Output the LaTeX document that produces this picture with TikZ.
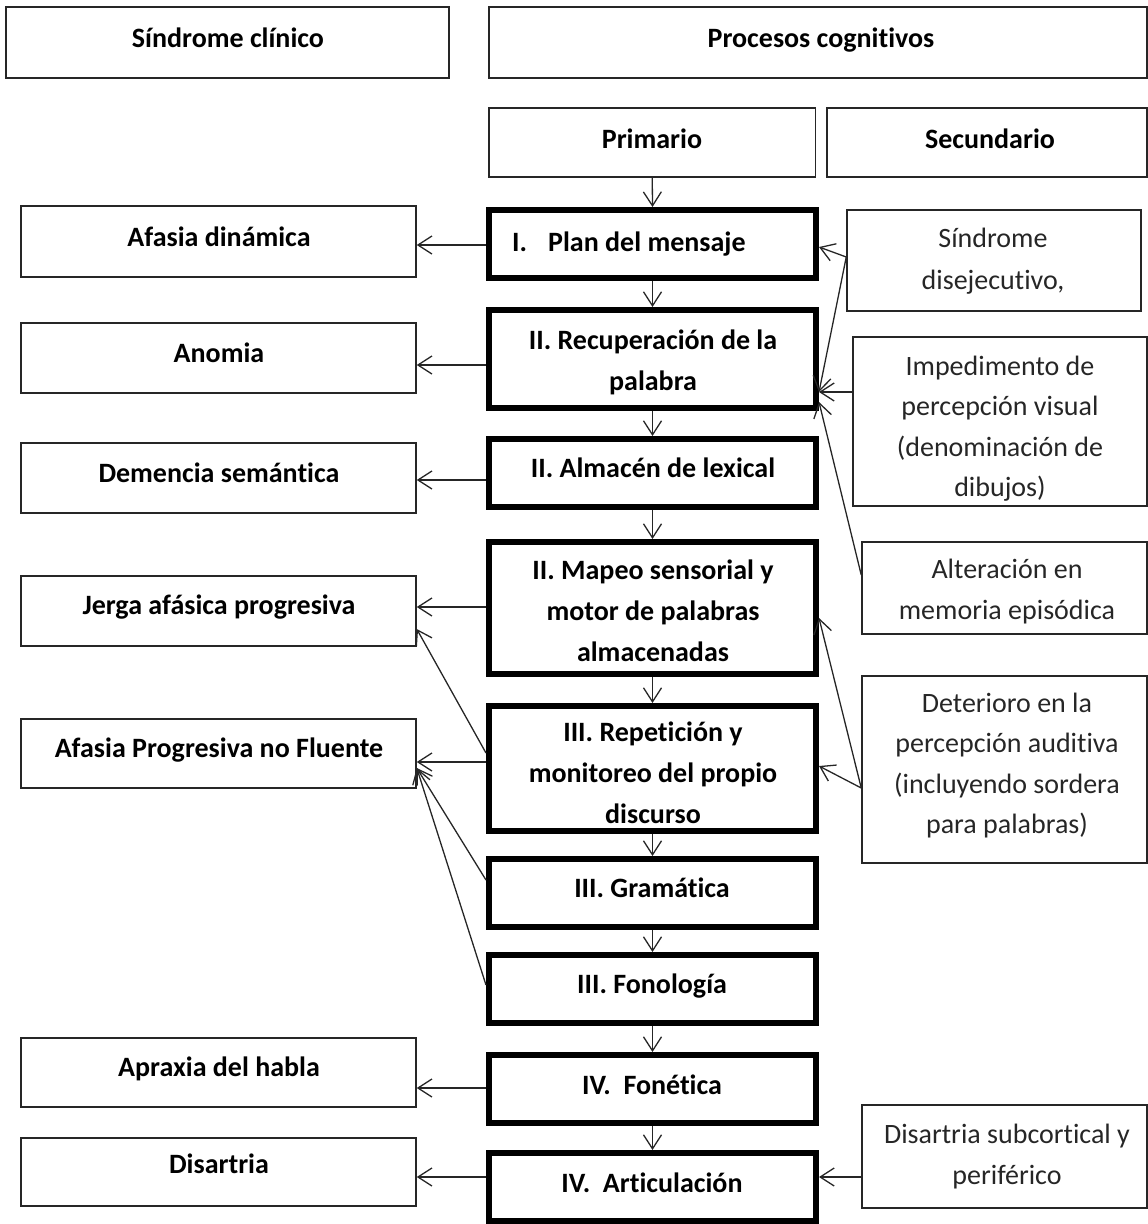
\documentclass[tikz,border=0pt]{standalone}
\usepackage{fontspec}
\setmainfont{Carlito}[Ligatures={NoCommon}]
\usetikzlibrary{arrows.meta}
% uniform line strut: keeps every text line centred on its cap height
\newcommand\lnst{\rule[-11pt]{0pt}{40pt}}

\begin{document}
\begin{tikzpicture}[x=1pt,y=-1pt,
  lbox/.style={draw=black!85, line width=1.5pt, rectangle, inner sep=0pt},
  pbox/.style={draw=black, line width=6pt, rectangle, inner sep=0pt, minimum width=327pt},
  lbl/.style={inner sep=0pt, align=center, font=\fontsize{28}{39.5}\selectfont\bfseries},
  sec/.style={inner sep=0pt, align=center, font=\fontsize{28}{40.5}\selectfont, text=black!85},
  conn/.style={draw=black!85, line width=1.3pt,
    -{Straight Barb[length=14pt,width=18pt,line width=1.3pt]}},
]
\useasboundingbox (0,0) rectangle (1148,1224);

% ---- header boxes
\node[lbox, minimum width=443pt, minimum height=71pt] (sc)   at (227.5,42.5) {};
\node[lbox, minimum width=658pt, minimum height=71pt] (pc)   at (818,42.5) {};
\node[lbox, minimum width=326.5pt, minimum height=69pt] (prim) at (652.25,142.5) {};
\node[lbox, minimum width=320pt, minimum height=69pt] (secu) at (987,142.5) {};
\node[lbl] (t-sc)   at (228,38)  {\lnst Síndrome clínico};
\node[lbl] (t-pc)   at (821,38)  {\lnst Procesos cognitivos};
\node[lbl] (t-prim) at (652,139) {\lnst Primario};
\node[lbl] (t-secu) at (990,139) {\lnst Secundario};

% ---- primary process chain
\node[pbox, minimum height=68pt]  (plan)  at (652.5,244) {};
\node[pbox, minimum height=98pt]  (recup) at (652.5,359) {};
\node[pbox, minimum height=68pt]  (alm)   at (652.5,473) {};
\node[pbox, minimum height=132pt] (map)   at (652.5,608) {};
\node[pbox, minimum height=125pt] (rep)   at (652.5,768.5) {};
\node[pbox, minimum height=68pt]  (gram)  at (652.5,893) {};
\node[pbox, minimum height=68pt]  (fono)  at (652.5,989) {};
\node[pbox, minimum height=68pt]  (fone)  at (652.5,1089) {};
\node[pbox, minimum height=68pt]  (art)   at (652.5,1187) {};

\node[lbl, anchor=west] (t-plan) at (512,242) {\lnst\makebox[36pt][l]{I.}Plan del mensaje};
\node[lbl] (t-recup) at (653,361)  {\lnst II. Recuperación de la\\\lnst palabra};
\node[lbl] (t-alm)   at (653,468)  {\lnst II. Almacén de lexical};
\node[lbl] (t-map)   at (653,611)  {\lnst II. Mapeo sensorial y\\\lnst motor de palabras\\\lnst almacenadas};
\node[lbl] (t-rep)   at (653,773)  {\lnst III. Repetición y\\\lnst monitoreo del propio\\\lnst discurso};
\node[lbl] (t-gram)  at (652,888)  {\lnst III. Gramática};
\node[lbl] (t-fono)  at (652,984)  {\lnst III. Fonología};
\node[lbl] (t-fone)  at (652,1085) {\lnst IV.\ \ Fonética};
\node[lbl] (t-art)   at (652,1183) {\lnst IV.\ \ Articulación};

% ---- clinical syndromes
\node[lbox, minimum width=395pt, minimum height=71pt] (afd)   at (218.5,241.5) {};
\node[lbox, minimum width=395pt, minimum height=70pt] (anom)  at (218.5,358) {};
\node[lbox, minimum width=395pt, minimum height=70pt] (dem)   at (218.5,478) {};
\node[lbox, minimum width=395pt, minimum height=70pt] (jer)   at (218.5,611) {};
\node[lbox, minimum width=395pt, minimum height=69pt] (apnf)  at (218.5,753.5) {};
\node[lbox, minimum width=395pt, minimum height=69pt] (aprax) at (218.5,1072.5) {};
\node[lbox, minimum width=395pt, minimum height=68pt] (dis)   at (218.5,1172) {};

\node[lbl] (t-afd)   at (219,237)  {\lnst Afasia dinámica};
\node[lbl] (t-anom)  at (219,353)  {\lnst Anomia};
\node[lbl] (t-dem)   at (219,473)  {\lnst Demencia semántica};
\node[lbl] (t-jer)   at (219,605)  {\lnst Jerga afásica progresiva};
\node[lbl] (t-apnf)  at (219,748)  {\lnst Afasia Progresiva no Fluente};
\node[lbl] (t-aprax) at (219,1067) {\lnst Apraxia del habla};
\node[lbl] (t-dis)   at (219,1164) {\lnst Disartria};

% ---- secondary processes
\node[lbox, minimum width=294pt, minimum height=101pt] (sdis) at (994,260.5) {};
\node[lbox, minimum width=294pt, minimum height=169pt] (imp)  at (1000,421.5) {};
\node[lbox, minimum width=285pt, minimum height=92pt]  (alt)  at (1004.5,588) {};
\node[lbox, minimum width=285pt, minimum height=187pt] (det)  at (1004.5,769.5) {};
\node[lbox, minimum width=285pt, minimum height=103pt] (dsub) at (1004.5,1156.5) {};

\node[sec, font=\fontsize{28}{42}\selectfont] (t-sdis) at (993,259)
  {\lnst Síndrome\\\lnst disejecutivo,};
\node[sec] (t-imp)  at (1000,427)
  {\lnst Impedimento de\\\lnst percepción visual\\\lnst (denominación de\\\lnst dibujos)};
\node[sec] (t-alt)  at (1007,590)
  {\lnst Alteración en\\\lnst memoria episódica};
\node[sec] (t-det)  at (1007,764)
  {\lnst Deterioro en la\\\lnst percepción auditiva\\\lnst (incluyendo sordera\\\lnst para palabras)};
\node[sec] (t-dsub) at (1007,1155)
  {\lnst Disartria subcortical y\\\lnst periférico};

% ---- vertical flow
\draw[conn] (prim.south) -- (plan.north);
\draw[conn] (plan.south) -- (recup.north);
\draw[conn] (recup.south) -- (alm.north);
\draw[conn] (alm.south) -- (map.north);
\draw[conn] (map.south) -- (rep.north);
\draw[conn] (rep.south) -- (gram.north);
\draw[conn] (gram.south) -- (fono.north);
\draw[conn] (fono.south) -- (fone.north);
\draw[conn] (fone.south) -- (art.north);

% ---- process -> syndrome
\draw[conn] (plan.west |- 0,245)   -- (afd.east |- 0,245);
\draw[conn] (recup.west |- 0,365)  -- (anom.east |- 0,365);
\draw[conn] (alm.west |- 0,480)    -- (dem.east |- 0,480);
\draw[conn] (map.west |- 0,607)    -- (jer.east |- 0,607);
\draw[conn] (rep.west |- 0,762)    -- (apnf.east |- 0,762);
\draw[conn] (rep.west |- 0,753)    -- (jer.east |- 0,629);
\draw[conn] (gram.west |- 0,880)   -- (apnf.east |- 0,768);
\draw[conn] (fono.west |- 0,985)   -- (apnf.east |- 0,768);
\draw[conn] (fone.west |- 0,1088)  -- (aprax.east |- 0,1088);
\draw[conn] (art.west |- 0,1177)   -- (dis.east |- 0,1177);

% ---- secondary -> primary
\draw[conn] (sdis.west |- 0,257)   -- (plan.east |- 0,247);
\draw[conn] (sdis.west |- 0,257)   -- (recup.east |- 0,392);
\draw[conn] (imp.west |- 0,392)    -- (recup.east |- 0,392);
\draw[conn] (alt.west |- 0,575)    -- (recup.east |- 0,402);
\draw[conn] (det.west |- 0,788)    -- (map.east |- 0,618);
\draw[conn] (det.west |- 0,788)    -- (rep.east |- 0,766);
\draw[conn] (dsub.west |- 0,1177)  -- (art.east |- 0,1177);
\end{tikzpicture}
\end{document}
